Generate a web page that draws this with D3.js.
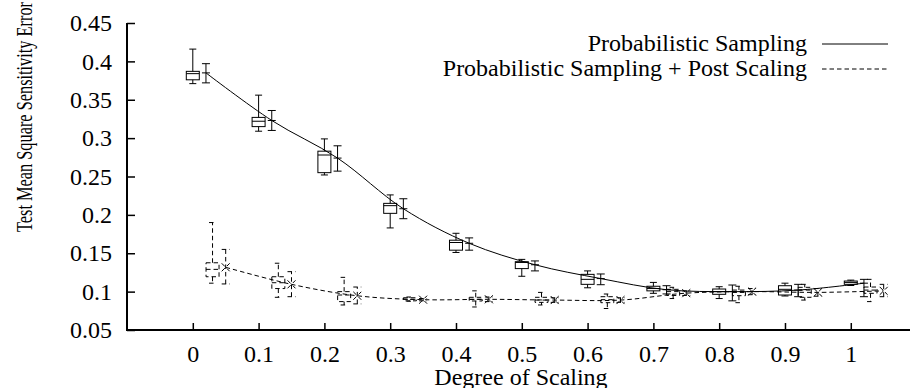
<!DOCTYPE html>
<html>
<head>
<meta charset="utf-8">
<script src="https://cdn.jsdelivr.net/npm/d3@7"></script>
<style>
  body { margin: 0; background: #fff; }
  text { font-family: "Liberation Serif", "Times New Roman", serif; fill: #000; }
</style>
</head>
<body>
<script>
// degree of scaling
const xs = [0, 0.1, 0.2, 0.3, 0.4, 0.5, 0.6, 0.7, 0.8, 0.9, 1.0];
const xTicks = [0, 0.1, 0.2, 0.3, 0.4, 0.5, 0.6, 0.7, 0.8, 0.9, 1];
const yTicks = [0.05, 0.1, 0.15, 0.2, 0.25, 0.3, 0.35, 0.4, 0.45];

// box: [whisker low, q1, median, q3, whisker high]
const probBox = [
  [0.371, 0.376, 0.384, 0.387, 0.416],
  [0.309, 0.315, 0.322, 0.327, 0.356],
  [0.252, 0.255, 0.278, 0.283, 0.299],
  [0.183, 0.202, 0.212, 0.215, 0.226],
  [0.151, 0.154, 0.164, 0.167, 0.176],
  [0.120, 0.130, 0.138, 0.139, 0.142],
  [0.105, 0.1095, 0.116, 0.1225, 0.127],
  [0.0978, 0.101, 0.104, 0.107, 0.112],
  [0.091, 0.0965, 0.100, 0.1034, 0.1064],
  [0.0943, 0.0956, 0.103, 0.1077, 0.111],
  [0.108, 0.1095, 0.112, 0.1138, 0.115]
];
// error bar: [low, mean, high]
const probErr = [
  [0.372, 0.385, 0.397],
  [0.310, 0.323, 0.336],
  [0.257, 0.274, 0.290],
  [0.195, 0.208, 0.221],
  [0.154, 0.163, 0.170],
  [0.127, 0.135, 0.140],
  [0.109, 0.117, 0.123],
  [0.097, 0.1025, 0.1077],
  [0.088, 0.100, 0.1086],
  [0.0934, 0.102, 0.1095],
  [0.0934, 0.111, 0.116]
];
const postBox = [
  [0.111, 0.1194, 0.129, 0.1376, 0.190],
  [0.0926, 0.104, 0.1116, 0.1194, 0.137],
  [0.0826, 0.087, 0.0956, 0.100, 0.1186],
  [0.0875, 0.088, 0.090, 0.092, 0.093],
  [0.080, 0.0878, 0.090, 0.0926, 0.101],
  [0.0826, 0.086, 0.089, 0.0926, 0.099],
  [0.078, 0.0856, 0.0895, 0.0934, 0.0969],
  [0.091, 0.095, 0.100, 0.103, 0.1056],
  [0.0856, 0.0947, 0.099, 0.102, 0.107],
  [0.089, 0.0926, 0.102, 0.1056, 0.1095],
  [0.087, 0.0978, 0.102, 0.106, 0.116]
];
const postErr = [
  [0.110, 0.1317, 0.155],
  [0.0934, 0.1095, 0.126],
  [0.084, 0.0946, 0.106],
  [0.088, 0.0895, 0.091],
  [0.087, 0.090, 0.093],
  [0.086, 0.089, 0.092],
  [0.086, 0.089, 0.092],
  [0.095, 0.098, 0.101],
  [0.096, 0.100, 0.104],
  [0.094, 0.099, 0.104],
  [0.0934, 0.101, 0.1095]
];

const width = 910;
const height = 388;
const fontSize = 24;
const svg = d3.select("body").append("svg")
  .attr("width", width)
  .attr("height", height);

const x = d3.scaleLinear().domain([-0.1, 1.09]).range([127, 910]);
const y = d3.scaleLinear().domain([0.05, 0.45]).range([330, 23]);

const series = [
  { name: "Probabilistic Sampling", box: probBox, err: probErr, boxOff: 0, errOff: 0.02, dash: null, mark: "plus" },
  { name: "Probabilistic Sampling + Post Scaling", box: postBox, err: postErr, boxOff: 0.03, errOff: 0.05, dash: "4.5,3", mark: "cross" }
];

const boxHalf = 6.5, whiskHalf = 3.5, capHalf = 4, markHalf = 4;

series.forEach((s) => {
  const g = svg.append("g")
    .attr("fill", "none")
    .attr("stroke", "#000")
    .attr("stroke-width", 1)
    .attr("stroke-dasharray", s.dash);

  // boxes
  s.box.forEach((b, i) => {
    const cx = x(xs[i] + s.boxOff);
    g.append("rect")
      .attr("x", cx - boxHalf).attr("width", boxHalf * 2)
      .attr("y", y(b[3])).attr("height", y(b[1]) - y(b[3]));
    g.append("line").attr("x1", cx - boxHalf).attr("x2", cx + boxHalf)
      .attr("y1", y(b[2])).attr("y2", y(b[2]));
    g.append("line").attr("x1", cx).attr("x2", cx)
      .attr("y1", y(b[3])).attr("y2", y(b[4]));
    g.append("line").attr("x1", cx).attr("x2", cx)
      .attr("y1", y(b[1])).attr("y2", y(b[0]));
    [b[0], b[4]].forEach((v) => {
      g.append("line").attr("x1", cx - whiskHalf).attr("x2", cx + whiskHalf)
        .attr("y1", y(v)).attr("y2", y(v));
    });
  });

  // error bars
  s.err.forEach((e, i) => {
    const cx = x(xs[i] + s.errOff);
    g.append("line").attr("x1", cx).attr("x2", cx)
      .attr("y1", y(e[0])).attr("y2", y(e[2]));
    [e[0], e[2]].forEach((v) => {
      g.append("line").attr("x1", cx - capHalf).attr("x2", cx + capHalf)
        .attr("y1", y(v)).attr("y2", y(v));
    });
    const cy = y(e[1]);
    if (s.mark === "plus") {
      g.append("line").attr("x1", cx - markHalf).attr("x2", cx + markHalf)
        .attr("y1", cy).attr("y2", cy).attr("stroke-dasharray", null);
    } else {
      g.append("path")
        .attr("d", `M${cx - markHalf},${cy - markHalf}L${cx + markHalf},${cy + markHalf}M${cx - markHalf},${cy + markHalf}L${cx + markHalf},${cy - markHalf}`)
        .attr("stroke-dasharray", null);
    }
  });

  // mean line
  const line = d3.line()
    .x((d, i) => x(xs[i] + s.errOff))
    .y((d) => y(d[1]))
    .curve(d3.curveCatmullRom);
  g.append("path").attr("d", line(s.err));
});

// axes
const axisG = svg.append("g");
const xAxis = d3.axisBottom(x).tickValues(xTicks).tickSize(-7).tickPadding(15).tickFormat(d3.format("~g"));
const yAxis = d3.axisLeft(y).tickValues(yTicks).tickSize(-8).tickPadding(15).tickFormat(d3.format("~g"));

axisG.append("g").attr("transform", "translate(0,330)").call(xAxis);
axisG.append("g").attr("transform", "translate(127,0)").call(yAxis);
axisG.selectAll(".domain").remove();
axisG.selectAll(".tick line").attr("stroke", "#000").attr("stroke-width", 1.5);
axisG.selectAll(".tick text")
  .attr("font-size", fontSize)
  .attr("fill", "#000");

svg.append("path")
  .attr("d", `M127,${y(0.45)}V330H${x(1.09)}`)
  .attr("fill", "none").attr("stroke", "#000").attr("stroke-width", 2);

svg.append("text")
  .attr("x", 521).attr("y", 385)
  .attr("text-anchor", "middle")
  .attr("font-size", fontSize)
  .text("Degree of Scaling");

// the y title is squeezed to fit the plot height
svg.append("text")
  .attr("transform", "translate(32,117) rotate(-90)")
  .attr("text-anchor", "middle")
  .attr("font-size", fontSize)
  .attr("textLength", 230)
  .attr("lengthAdjust", "spacingAndGlyphs")
  .text("Test Mean Square Sensitivity Error");

// legend
series.forEach((s, i) => {
  const ly = 44 + i * 25;
  svg.append("text")
    .attr("x", 807).attr("y", ly + 7)
    .attr("text-anchor", "end")
    .attr("font-size", fontSize)
    .text(s.name);
  svg.append("line")
    .attr("x1", 822).attr("x2", 888)
    .attr("y1", ly).attr("y2", ly)
    .attr("stroke", "#000").attr("stroke-width", 1)
    .attr("stroke-dasharray", s.dash);
});
</script>
</body>
</html>
